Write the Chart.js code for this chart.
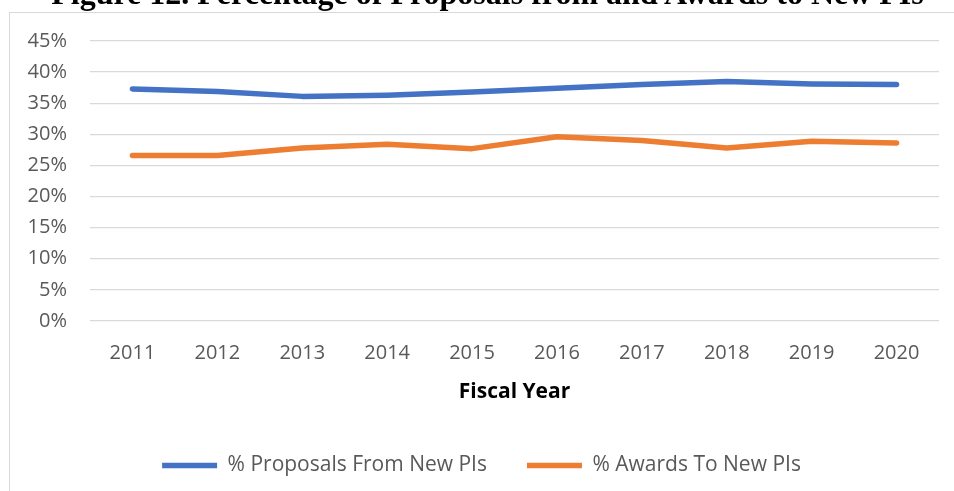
<!DOCTYPE html>
<html>
<head>
<meta charset="utf-8">
<script src="https://cdn.jsdelivr.net/npm/chart.js@4"></script>
<style>
  html, body { margin: 0; padding: 0; background: #fff; overflow: hidden; }
  #wrap { position: relative; width: 954px; height: 491px; overflow: hidden; }
  #title {
    position: absolute; left: 0; top: -23px; width: 975px;
    text-align: center; white-space: nowrap;
    font: bold 32px/32px "Liberation Serif", "Times New Roman", serif; color: #000;
  }
  #frame {
    position: absolute; left: 9px; top: 12px; width: 960px; height: 500px;
    border: 1px solid #d9d9d9; box-sizing: border-box;
  }
  canvas { position: absolute; left: 0; top: 0; }
</style>
</head>
<body>
<div id="wrap">
  <div id="frame"></div>
  <canvas id="myChart" width="954" height="491"></canvas>
  <div id="title">Figure 12. Percentage of Proposals from and Awards to New PIs</div>
</div>
<script>
  const years = ['2011', '2012', '2013', '2014', '2015', '2016', '2017', '2018', '2019', '2020'];
  const proposalsPct = [37.3, 36.9, 36.1, 36.3, 36.8, 37.4, 38.0, 38.5, 38.1, 38.0];
  const awardsPct = [26.6, 26.6, 27.8, 28.4, 27.7, 29.6, 29.0, 27.8, 28.9, 28.6];

  const textFont = '"Open Sans", "Noto Sans", sans-serif';

  const ctx = document.getElementById('myChart').getContext('2d');
  new Chart(ctx, {
    type: 'line',
    data: {
      labels: years,
      datasets: [{
        label: '% Proposals From New PIs',
        data: proposalsPct,
        borderColor: '#4472C4',
        backgroundColor: '#4472C4',
        borderWidth: 5.5,
        borderCapStyle: 'round',
        borderJoinStyle: 'round',
        pointRadius: 0,
        pointStyle: 'line',
        fill: false,
      }, {
        label: '% Awards To New PIs',
        data: awardsPct,
        borderColor: '#ED7D31',
        backgroundColor: '#ED7D31',
        borderWidth: 5.5,
        borderCapStyle: 'round',
        borderJoinStyle: 'round',
        pointRadius: 0,
        pointStyle: 'line',
        fill: false,
      }],
    },
    options: {
      responsive: false,
      animation: false,
      // left padding nudges the centred legend right; y axis width makes up the rest
      layout: { padding: { left: 24, right: 15, top: 41, bottom: 5 } },
      plugins: {
        tooltip: { enabled: false },
        legend: {
          position: 'bottom',
          labels: {
            usePointStyle: true,
            pointStyleWidth: 55,
            padding: 40,
            color: '#595959',
            font: { family: textFont, size: 21 },
          },
        },
      },
      scales: {
        x: {
          offset: true,
          grid: { display: false },
          border: { display: false },
          ticks: { color: '#595959', padding: 12, font: { family: textFont, size: 20 } },
          title: {
            display: true,
            text: 'Fiscal Year',
            color: '#000',
            padding: { top: 4, bottom: 10 },
            font: { family: textFont, size: 21, weight: 'bold' },
          },
          afterFit: (scale) => { scale.height = 94; },
        },
        y: {
          min: 0,
          max: 45,
          grid: { color: '#d9d9d9', lineWidth: 1.3, drawTicks: false },
          border: { display: false },
          ticks: {
            stepSize: 5,
            padding: 23,
            color: '#595959',
            font: { family: textFont, size: 20 },
            callback: (v) => v + '%',
          },
          afterFit: (scale) => { scale.width = 66; },
        },
      },
    },
  });
</script>
</body>
</html>
